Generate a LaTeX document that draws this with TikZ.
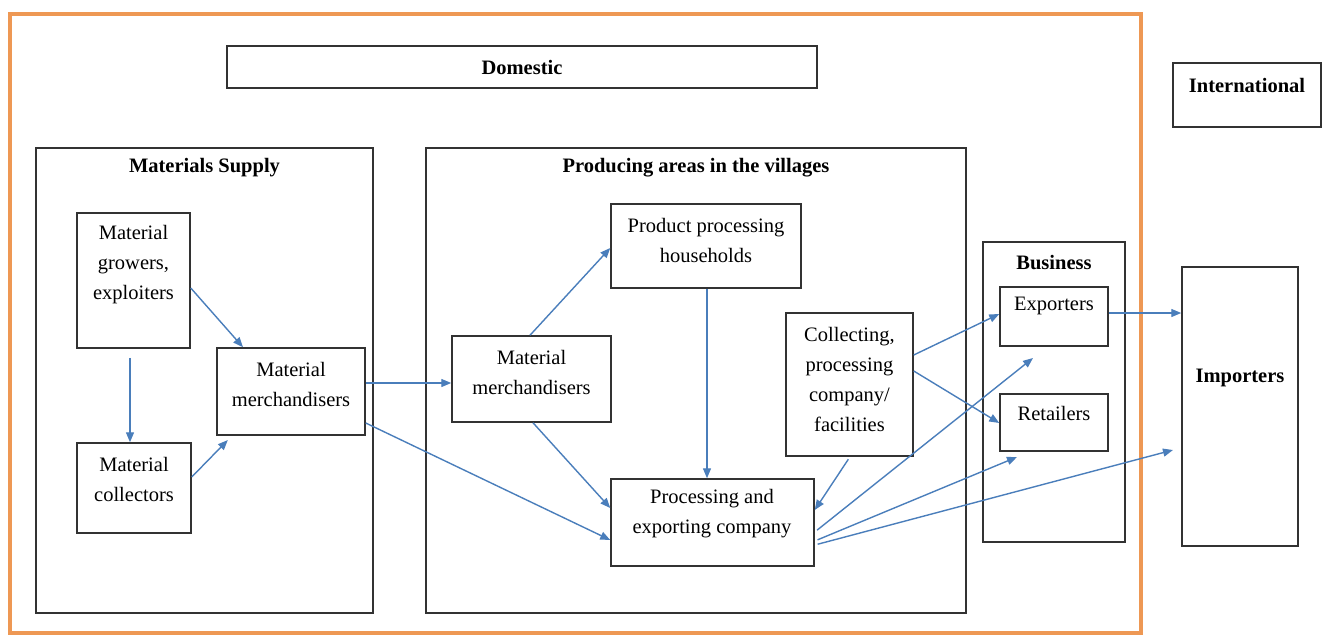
\documentclass[tikz,border=0pt]{standalone}
\usepackage{fontspec}
\setmainfont{Liberation Serif}
\usetikzlibrary{arrows.meta}
\definecolor{framecol}{RGB}{238,152,84}
\definecolor{flowcol}{RGB}{74,126,187}
\definecolor{edgecol}{RGB}{50,50,50}
\begin{document}
\begin{tikzpicture}[x=1pt,y=-1pt,
  box/.style={draw=edgecol,line width=1.5pt,inner sep=0pt},
  txt/.style={align=center,inner sep=0pt,font=\fontsize{20.5}{30}\selectfont},
  ttl/.style={txt,font=\fontsize{20.5}{30}\selectfont\bfseries},
  flow/.style={draw=flowcol,line width=1.4pt,-{Triangle[length=10pt,width=8pt]}}]
\useasboundingbox (0,0) rectangle (1323,635);
\fill[white] (0,0) rectangle (1323,635);

% domestic frame
\draw[framecol,line width=4pt] (10,14) rectangle (1141,633);

% headings
\node[box,minimum width=590pt,minimum height=42pt] (dom) at (522,67) {};
\node[ttl] (domt) at (522,67) {Domestic};
\node[box,minimum width=148pt,minimum height=64pt] (intl) at (1247,95) {};
\node[ttl] (intlt) at (1247,85) {International};

% regions
\node[box,minimum width=337pt,minimum height=465pt] (matsup) at (204.5,380.5) {};
\node[ttl] (matsupt) at (204.5,168) {Materials Supply};
\node[box,minimum width=540pt,minimum height=465pt] (prod) at (696,380.5) {};
\node[ttl] (prodt) at (696,168) {Producing areas in the villages};
\node[box,minimum width=142pt,minimum height=300pt] (bus) at (1054,392) {};
\node[ttl] (bust) at (1054,263) {Business};
\node[box,minimum width=116pt,minimum height=279pt] (imp) at (1240,406.5) {};
\node[ttl] (impt) at (1240,378) {Importers};

% actors
\node[box,minimum width=113pt,minimum height=135pt] (grow) at (133.5,280.5) {};
\node[txt] (growt) at (133.5,265) {Material\\growers,\\exploiters};
\node[box,minimum width=114pt,minimum height=90pt] (coll) at (134,488) {};
\node[txt] (collt) at (134,479) {Material\\collectors};
\node[box,minimum width=148pt,minimum height=87pt] (lmer) at (291,391.5) {};
\node[txt] (lmert) at (291,384) {Material\\merchandisers};
\node[box,minimum width=159pt,minimum height=86pt] (mmer) at (531.5,379) {};
\node[txt] (mmert) at (531.5,372) {Material\\merchandisers};
\node[box,minimum width=190pt,minimum height=84pt] (house) at (706,246) {};
\node[txt] (houset) at (706,240) {Product processing\\households};
\node[box,minimum width=203pt,minimum height=87pt] (pexp) at (712.5,522.5) {};
\node[txt] (pexpt) at (712,514) {Processing and\\exporting company};
\node[box,minimum width=127pt,minimum height=143pt] (cfac) at (849.5,384.5) {};
\node[txt] (cfact) at (849.5,379) {Collecting,\\processing\\company/\\facilities};
\node[box,minimum width=108pt,minimum height=59pt] (expo) at (1054,316.5) {};
\node[txt] (expot) at (1054,306) {Exporters};
\node[box,minimum width=108pt,minimum height=57pt] (reta) at (1054,422.5) {};
\node[txt] (retat) at (1054,413) {Retailers};

% loose arrow ends inside the business column and before importers
\coordinate (busA) at (1033,358);
\coordinate (busB) at (1017,457);
\coordinate (impA) at (1173,450);

% flows
\draw[flow] (grow.east |- 0,288) -- (lmer.north -| 243,0);
\draw[flow,shorten <=9pt] (grow.south -| 130,0) -- (coll.north -| 130,0);
\draw[flow,shorten >=6pt] (coll.east |- 0,477) -- (lmer.south -| 232,0);
\draw[flow] (lmer.east |- 0,383) -- (mmer.west |- 0,383);
\draw[flow] (lmer.east |- 0,423) -- (pexp.west |- 0,540);
\draw[flow] (mmer.north -| 530,0) -- (house.west |- 0,248);
\draw[flow] (mmer.south -| 533,0) -- (pexp.west |- 0,508);
\draw[flow] (house.south -| 707,0) -- (pexp.north -| 707,0);
\draw[flow,shorten <=3pt] (cfac.south -| 850,0) -- (pexp.east |- 0,510);
\draw[flow] (cfac.east |- 0,355) -- (expo.west |- 0,314);
\draw[flow] (cfac.east |- 0,371) -- (reta.west |- 0,423);
\draw[flow,shorten <=3pt] (pexp.east |- 0,532) -- (busA);
\draw[flow,shorten <=3pt] (pexp.east |- 0,541) -- (busB);
\draw[flow,shorten <=3pt] (pexp.east |- 0,545) -- (impA);
\draw[flow] (expo.east |- 0,313) -- (imp.west |- 0,313);
\end{tikzpicture}
\end{document}
